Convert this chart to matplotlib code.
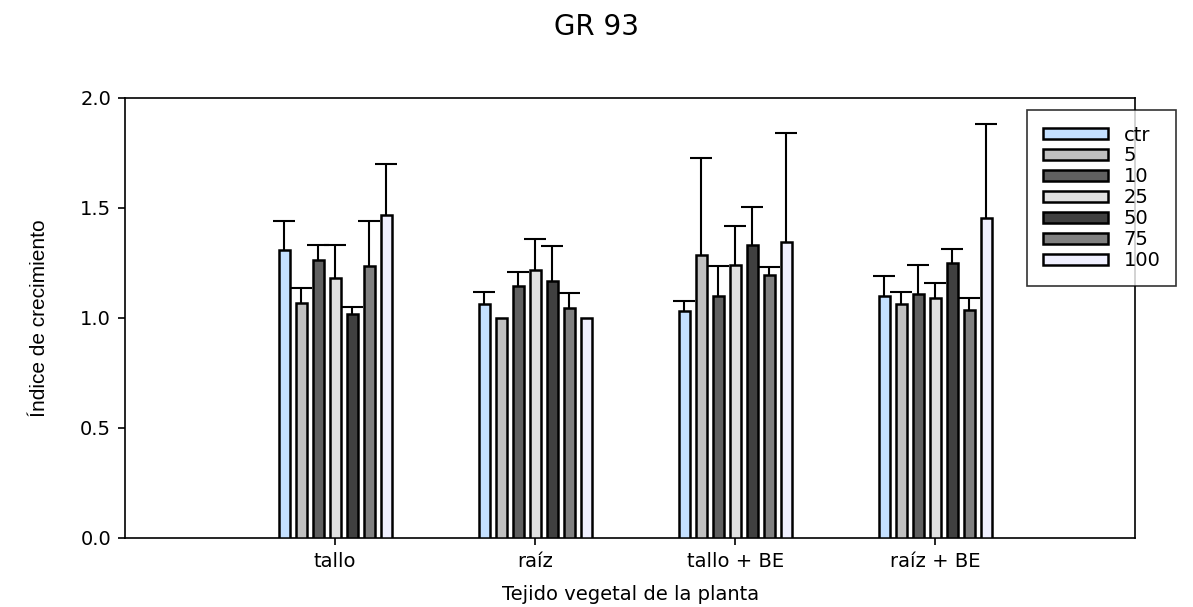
import numpy as np
import matplotlib.pyplot as plt

# datos
tejidos = ['tallo', 'raíz', 'tallo + BE', 'raíz + BE']
dosis = ['ctr', '5', '10', '25', '50', '75', '100']
colores = ['#c4e0ff', '#c0c0c0', '#606060', '#e0e0e0', '#404040', '#808080', '#f0f0ff']

medias = {
    'ctr': [1.31, 1.065, 1.03, 1.10],
    '5':   [1.07, 1.00, 1.285, 1.065],
    '10':  [1.265, 1.145, 1.10, 1.11],
    '25':  [1.18, 1.22, 1.24, 1.09],
    '50':  [1.02, 1.17, 1.33, 1.25],
    '75':  [1.235, 1.045, 1.195, 1.035],
    '100': [1.47, 1.00, 1.345, 1.455],
}
errores = {
    'ctr': [0.13, 0.055, 0.045, 0.09],
    '5':   [0.065, 0.0, 0.44, 0.055],
    '10':  [0.065, 0.065, 0.135, 0.13],
    '25':  [0.15, 0.14, 0.18, 0.07],
    '50':  [0.03, 0.155, 0.175, 0.065],
    '75':  [0.205, 0.07, 0.035, 0.055],
    '100': [0.23, 0.0, 0.495, 0.425],
}

plt.rcParams['font.family'] = ['DejaVu Sans']

fig = plt.figure(figsize=(11.93, 6.07), dpi=100)
ax = fig.add_axes([0.1048, 0.1137, 0.847, 0.7249])

x = np.arange(len(tejidos))
paso = 0.085
ancho = 0.055
for i, d in enumerate(dosis):
    pos = x + (i - 3) * paso
    ax.bar(pos, medias[d], width=ancho, color=colores[i], edgecolor='black',
           linewidth=1.8, label=d, zorder=3)
    err = np.array(errores[d])
    mask = err > 0
    _, caps, _ = ax.errorbar(pos[mask], np.array(medias[d])[mask],
                             yerr=[np.zeros(mask.sum()), err[mask]],
                             fmt='none', ecolor='black', elinewidth=1.5,
                             capsize=8, capthick=1.5, zorder=2)
    # solo la barra de error superior
    caps[0].set_visible(False)

ax.set_xlim(-1.05, 4.0)
ax.set_ylim(0, 2.0)
ax.set_yticks([0.0, 0.5, 1.0, 1.5, 2.0])
ax.set_yticklabels(['0.0', '0.5', '1.0', '1.5', '2.0'])
ax.set_xticks(x)
ax.set_xticklabels(tejidos)
ax.tick_params(axis='both', direction='out', labelsize=14, length=5, width=1.2,
               top=False, right=False)
ax.tick_params(axis='y', pad=5)
ax.tick_params(axis='x', pad=5)
for s in ax.spines.values():
    s.set_linewidth(1.2)

ax.set_xlabel('Tejido vegetal de la planta', fontsize=14, labelpad=10)
ax.set_ylabel('Índice de crecimiento', fontsize=15, labelpad=22,
              family=['Liberation Sans Narrow', 'Liberation Sans', 'DejaVu Sans'])
fig.suptitle('GR 93', fontsize=20, y=0.978)

leg = ax.legend(loc='upper left', bbox_to_anchor=(0.861, 0.8188),
                bbox_transform=fig.transFigure, fontsize=14, frameon=True,
                fancybox=False, edgecolor='black', handlelength=3.35,
                handleheight=0.46, labelspacing=0.1, borderpad=0.8,
                handletextpad=0.8, borderaxespad=0)
leg.get_frame().set_linewidth(1.2)

fig.savefig('out.png', dpi=100)
